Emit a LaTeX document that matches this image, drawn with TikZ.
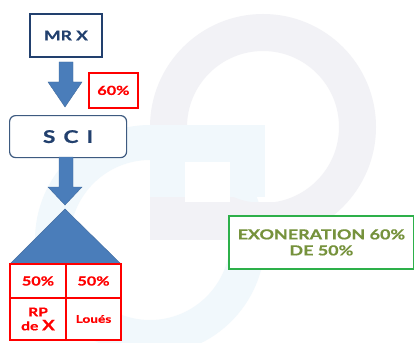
\documentclass[tikz,border=0pt]{standalone}
\usepackage{fontspec}
\setmainfont{Lato}[FakeStretch=1.3,BoldFeatures={FakeBold=0.6}]
\definecolor{navy}{HTML}{22406E}
\definecolor{sciedge}{HTML}{3D5A80}
\definecolor{arrowblue}{HTML}{4A7DBA}
\definecolor{redc}{HTML}{FF0000}
\definecolor{greenedge}{HTML}{2DB04A}
\definecolor{greentext}{HTML}{76923C}
\definecolor{wmgrey}{HTML}{F2F2F6}
\definecolor{wmblue}{HTML}{F1F8FC}
\begin{document}
\begin{tikzpicture}[x=1pt,y=-1pt,
  navybox/.style={draw=navy,line width=2pt,fill=white,text=navy},
  redbox/.style={draw=redc,line width=1.8pt,fill=white,text=redc},
  blockarrow/.style={fill=arrowblue,draw=arrowblue!85!black,line width=0.4pt},
  cell/.style={text=redc,align=center,inner sep=0pt}]
\useasboundingbox[fill=white] (0,0) rectangle (414,342);
% watermark
\fill[wmblue,even odd rule] (150,240) circle[radius=115] (150,240) circle[radius=80];
\fill[wmgrey,even odd rule] (263,127) circle[radius=113] (263,127) circle[radius=76];
\fill[wmgrey] (150,165) rectangle (185,240);
\fill[wmgrey] (150,202) rectangle (290,240);
\fill[wmblue] (150,125) rectangle (265,197);
\fill[white] (185,162) rectangle (230,202);
% MR X
\node[navybox,minimum width=72pt,minimum height=43pt,font=\fontsize{13.5}{15}\selectfont\bfseries,anchor=north west] (mrx) at (29,13) {MR X};
% arrow 1
\draw[blockarrow] (59,62) -- (73,62) -- (73,82) -- (82,82) -- (65,107) -- (48,82) -- (59,82) -- cycle;
% 60%
\node[redbox,minimum width=49pt,minimum height=35pt,font=\fontsize{12.5}{14}\selectfont\bfseries,anchor=north west] (p60) at (88,72) {60\%};
% SCI
\node[draw=sciedge,line width=1.2pt,rounded corners=6pt,fill=white,text=navy,minimum width=117pt,minimum height=42pt,anchor=north west,font=\fontsize{17.5}{18}\selectfont\bfseries] (sci) at (9,115) {S\hspace{8pt}C\hspace{8pt}I};
% arrow 2
\draw[blockarrow] (59,157) -- (73,157) -- (73,187) -- (82,187) -- (65,205) -- (48,187) -- (59,187) -- cycle;
% roof
\draw[blockarrow] (65,209) -- (121,264) -- (10,264) -- cycle;
% table
\draw[redc,line width=1.8pt,fill=white] (10,264) rectangle (121,340);
\draw[redc,line width=1.8pt] (10,298) -- (121,298) (66,264) -- (66,340);
\node[cell,font=\fontsize{12.5}{14}\selectfont\bfseries] (c1) at (38,281) {50\%};
\node[cell,font=\fontsize{12.5}{14}\selectfont\bfseries] (c2) at (93.5,281) {50\%};
\node[cell,font=\fontsize{12}{13}\selectfont\bfseries] (c3) at (38,319) {RP\\[1pt]de {\fontsize{14.5}{14}\selectfont X}};
\node[cell,font=\fontsize{10.5}{12}\selectfont\bfseries] (c4) at (93.5,319) {Loués};
% green box
\node[draw=greenedge,line width=1.8pt,fill=white,text=greentext,align=center,minimum width=185pt,minimum height=53pt,anchor=north west,font=\fontsize{13.8}{16}\selectfont\bfseries] (exo) at (228,215) {EXONERATION 60\%\\DE 50\%};
\end{tikzpicture}
\end{document}
